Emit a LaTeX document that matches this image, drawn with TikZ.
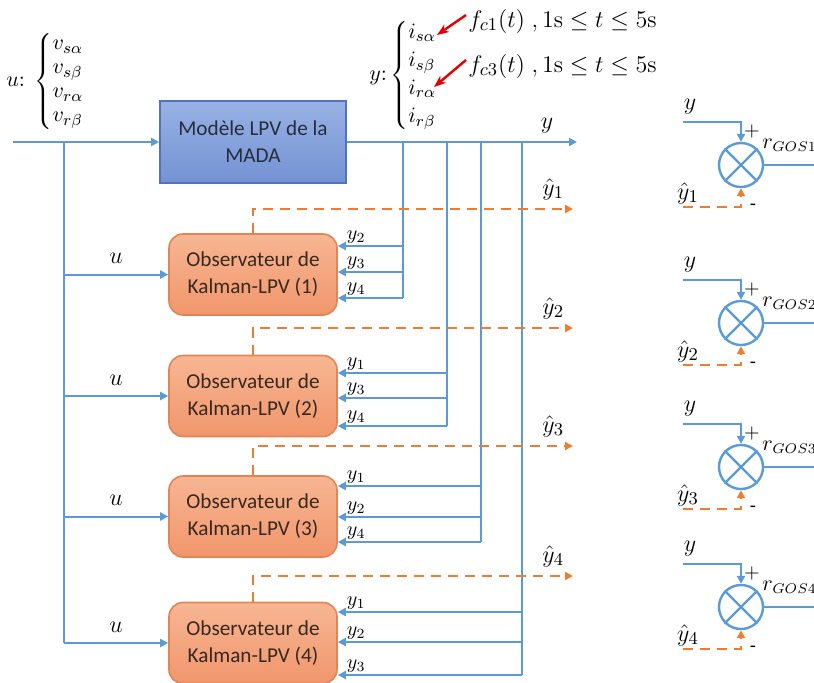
\documentclass[tikz,border=0pt]{standalone}
\usepackage[no-math]{fontspec}
\setmainfont{Carlito}
\usetikzlibrary{arrows.meta}
\definecolor{sigblue}{RGB}{91,155,213}
\definecolor{estorange}{RGB}{237,125,49}
\definecolor{faultred}{RGB}{226,0,0}
\tikzset{
  wire/.style={sigblue, line width=1pt},
  sig/.style={wire, -{Triangle[length=4pt,width=4pt]}},
  est/.style={estorange, line width=1pt, dash pattern=on 5pt off 3.5pt, -{Triangle[length=4pt,width=4pt]}},
  fault/.style={faultred, line width=1.2pt, -{Stealth[length=6pt,width=4.5pt]}},
  model/.style={draw={rgb,255:red,80;green,115;blue,190}, line width=0.8pt,
    top color={rgb,255:red,152;green,178;blue,228}, bottom color={rgb,255:red,116;green,146;blue,212},
    minimum width=93pt, minimum height=41pt, align=center,
    font=\fontsize{10.6}{13.5}\selectfont, text={rgb,255:red,40;green,45;blue,60}},
  obsbox/.style={draw={rgb,255:red,226;green,132;blue,88}, line width=0.8pt, rounded corners=7pt,
    top color={rgb,255:red,247;green,182;blue,146}, bottom color={rgb,255:red,241;green,150;blue,108},
    minimum width=84pt, minimum height=40.5pt, align=center,
    font=\fontsize{10.6}{13.5}\selectfont, text={rgb,255:red,55;green,40;blue,32}},
  sumnode/.style={circle, draw=sigblue, line width=1.2pt, minimum size=22pt, inner sep=0pt},
  biglab/.style={font=\fontsize{12.5}{14}\selectfont, inner sep=1pt, text=black},
  ylab/.style={font=\fontsize{10}{12}\selectfont, inner sep=1pt, text=black}
}
\begin{document}
\begin{tikzpicture}[x=0.5pt,y=-0.5pt]
\useasboundingbox (0,0) rectangle (814,682);

% signals u and y
\node[anchor=west, font=\fontsize{11}{12}\selectfont, inner sep=0pt] (ulist) at (6,81)
  {$u{:}\;\left\{\begin{array}{@{}l@{}} v_{s\alpha}\\ v_{s\beta}\\ v_{r\alpha}\\ v_{r\beta}\end{array}\right.$};
\node[anchor=west, font=\fontsize{10.8}{14}\selectfont, inner sep=0pt] (ylist) at (369,75)
  {$y{:}\left\{\begin{array}{@{}l@{}} i_{s\alpha}\\ i_{s\beta}\\ i_{r\alpha}\\ i_{r\beta}\end{array}\right.$};
\node[biglab, anchor=west] (fc1) at (466,21) {$f_{c1}(t)\;,1\mathrm{s}\leq t\leq 5\mathrm{s}$};
\node[biglab, anchor=west] (fc3) at (466,66) {$f_{c3}(t)\;,1\mathrm{s}\leq t\leq 5\mathrm{s}$};
\coordinate (isa) at (437,35);
\coordinate (ira) at (434,87);
\draw[fault] ([yshift=3pt]fc1.west) -- (isa);
\draw[fault] ([yshift=3pt]fc3.west) -- (ira);

% model and observers
\node[model] (mada) at (253,142) {Modèle LPV de la\\MADA};
\node[obsbox] (obs1) at (253,274.5) {Observateur de\\Kalman-LPV (1)};
\node[obsbox] (obs2) at (253,396) {Observateur de\\Kalman-LPV (2)};
\node[obsbox] (obs3) at (253,516.5) {Observateur de\\Kalman-LPV (3)};
\node[obsbox] (obs4) at (253,643) {Observateur de\\Kalman-LPV (4)};

\coordinate (uin) at (13,142);
\coordinate (ubus) at (64,142);
\coordinate (yout) at (577,142);
\draw[sig] (uin) -- (mada.west);
\draw[wire] (ubus) -- (64,643);
\draw[sig] (mada.east) -- (yout) node[biglab, pos=0.87, above=3pt] {$y$};
\foreach \k in {1,2,3,4}
  \draw[sig] (obs\k.west -| ubus) -- (obs\k.west) node[biglab, midway, above=4pt] {$u$};

% measured outputs fed to the observers
\draw[wire] (403,142) -- (403,298);
\draw[wire] (447,142) -- (447,426);
\draw[wire] (481,142) -- (481,542);
\draw[wire] (522,142) -- (522,675);
\foreach \yy/\i in {246/2,272/3,298/4}
  \draw[sig] (403,\yy) -- (obs1.east |- 0,\yy) node[ylab, above right, xshift=3pt] {$y_{\i}$};
\foreach \yy/\i in {373/1,398/3,426/4}
  \draw[sig] (447,\yy) -- (obs2.east |- 0,\yy) node[ylab, above right, xshift=3pt] {$y_{\i}$};
\foreach \yy/\i in {486/1,517/2,542/4}
  \draw[sig] (481,\yy) -- (obs3.east |- 0,\yy) node[ylab, above right, xshift=3pt] {$y_{\i}$};
\foreach \yy/\i in {612/1,642/2,675/3}
  \draw[sig] (522,\yy) -- (obs4.east |- 0,\yy) node[ylab, above right, xshift=3pt] {$y_{\i}$};

% estimated outputs
\foreach \k/\yy in {1/209,2/328,3/446,4/576}{
  \coordinate (est\k) at (573,\yy);
  \draw[est] (obs\k.north) |- (est\k) node[biglab, above left, xshift=-3pt, yshift=3pt] {$\hat{y}_{\k}$};
}

% residual generators
\foreach \k/\c in {1/165,2/323,3/467,4/607}{
  \node[sumnode] (s\k) at (741,\c) {};
  \draw[sigblue, line width=1.2pt] (s\k.45) -- (s\k.225) (s\k.135) -- (s\k.-45);
  \coordinate (yin\k) at (683,{\c-43});
  \coordinate (yhin\k) at (683,{\c+42});
  \coordinate (res\k) at (814,\c);
  \draw[sig] (yin\k) -| (s\k.north);
  \draw[est] (yhin\k) -| (s\k.south);
  \draw[wire] (s\k.east) -- (res\k);
  \node[biglab] at (690,{\c-58}) {$y$};
  \node[biglab] at (688,{\c+28}) {$\hat{y}_{\k}$};
  \node[font=\fontsize{10}{12}\selectfont, inner sep=0pt] at (752,{\c-34}) {$+$};
  \node[font=\fontsize{10}{12}\selectfont, inner sep=0pt] at (753,{\c+42}) {-};
  \node[font=\fontsize{10.5}{12}\selectfont, inner sep=0pt, anchor=west] at (762,{\c-20}) {$r_{GOS\k}$};
}
\end{tikzpicture}
\end{document}
